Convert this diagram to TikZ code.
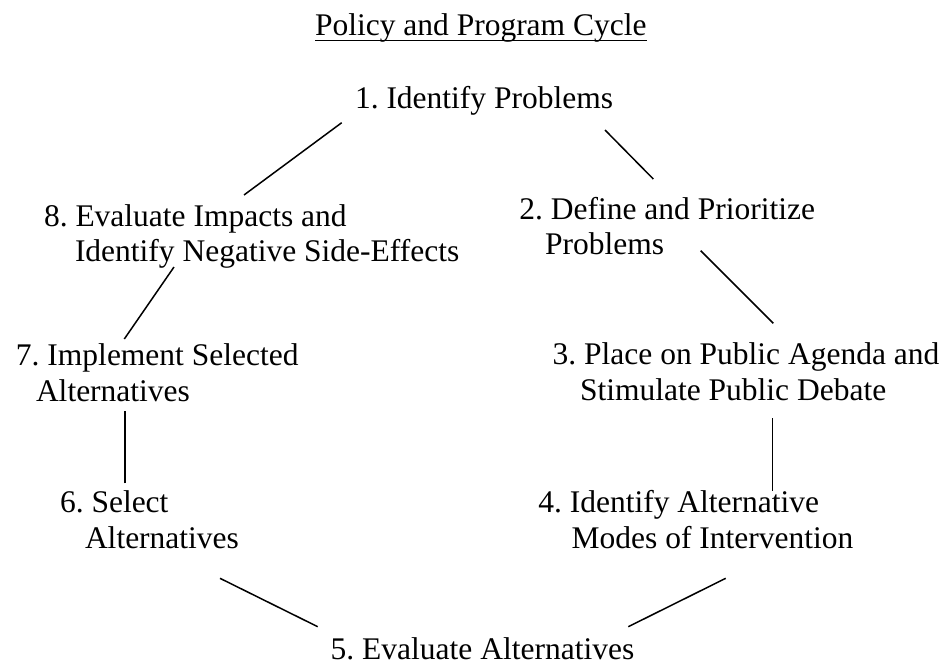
\documentclass[tikz,border=0pt]{standalone}
\usepackage{fontspec}
\setmainfont{Liberation Serif}
\begin{document}
\frenchspacing
\begin{tikzpicture}[x=1pt,y=-1pt,
  lbl/.style={anchor=base west,inner sep=0pt,outer sep=0pt,font=\fontsize{31.5}{36}\selectfont},
  conn/.style={line width=1.5pt,line cap=butt}]
\fill[white] (0,0) rectangle (947,664);
\useasboundingbox (0,0) rectangle (947,664);
% title
\node[lbl] (title) at (315,35) {Policy and Program Cycle};
\draw[line width=1.6pt] ([yshift=-5.5pt]title.base west) -- ([yshift=-5.5pt]title.base east);
% stages
\node[lbl] (n1) at (355,108) {1. Identify Problems};
\node[lbl] (n2a) at (519.3,219) {2. Define and Prioritize};
\node[lbl] (n2b) at (545,254.5) {Problems};
\node[lbl] (n3a) at (552.7,364) {3. Place on Public Agenda and};
\node[lbl] (n3b) at (580,400) {Stimulate Public Debate};
\node[lbl] (n4a) at (538.3,512.7) {4. Identify Alternative};
\node[lbl] (n4b) at (571.7,548.3) {Modes of Intervention};
\node[lbl] (n5) at (330.7,659) {5. Evaluate Alternatives};
\node[lbl] (n6a) at (60,512.7) {6. Select};
\node[lbl] (n6b) at (85,548.3) {Alternatives};
\node[lbl] (n7a) at (16,365) {7. Implement Selected};
\node[lbl] (n7b) at (36,401.7) {Alternatives};
\node[lbl] (n8a) at (44,226) {8. Evaluate Impacts and};
\node[lbl] (n8b) at (75,261.5) {Identify Negative Side-Effects};
% connector end points
\coordinate (c12a) at (605,130);   \coordinate (c12b) at (653.3,179);
\coordinate (c23a) at (700.7,250.7); \coordinate (c23b) at (773.3,323.3);
\coordinate (c34a) at (772.7,418.3); \coordinate (c34b) at (772.7,490.7);
\coordinate (c45a) at (725.7,578.3); \coordinate (c45b) at (628.3,626.7);
\coordinate (c56a) at (317.7,626.7); \coordinate (c56b) at (220,578.3);
\coordinate (c67a) at (125,483.3);   \coordinate (c67b) at (125,411);
\coordinate (c78a) at (124.3,339);   \coordinate (c78b) at (174,267);
\coordinate (c81a) at (244,195);     \coordinate (c81b) at (341.7,122.7);
\draw[conn] (c12a) -- (c12b);
\draw[conn] (c23a) -- (c23b);
\draw[conn] (c34a) -- (c34b);
\draw[conn] (c45a) -- (c45b);
\draw[conn] (c56a) -- (c56b);
\draw[conn] (c67a) -- (c67b);
\draw[conn] (c78a) -- (c78b);
\draw[conn] (c81a) -- (c81b);
\end{tikzpicture}
\end{document}
